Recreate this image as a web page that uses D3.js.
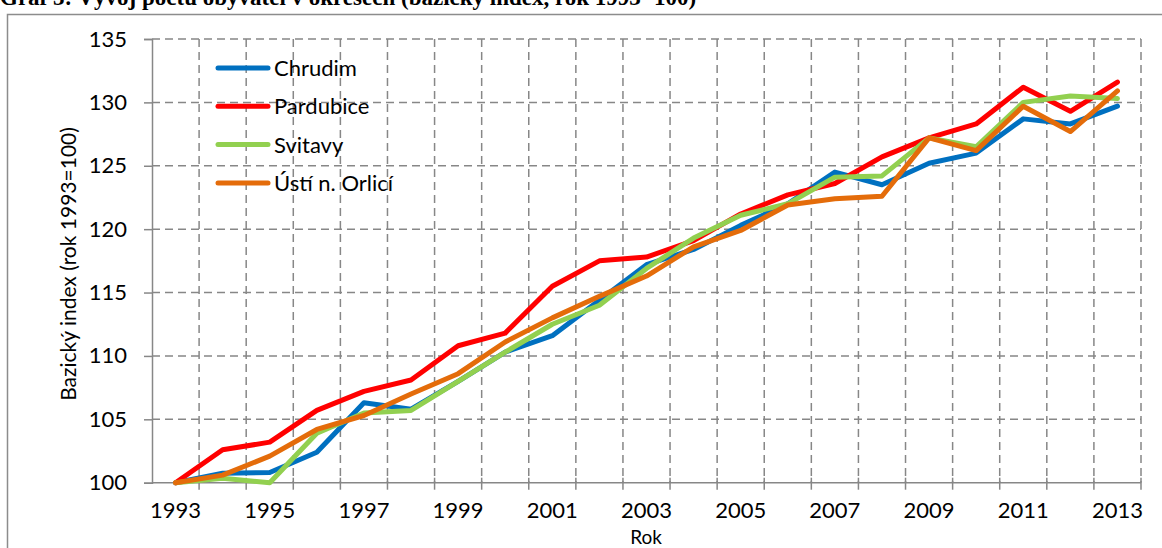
<!DOCTYPE html>
<html>
<head>
<meta charset="utf-8">
<script src="https://cdn.jsdelivr.net/npm/d3@7"></script>
<style>
    body { margin: 0; background: #fff; }
    svg { display: block; }
</style>
</head>
<body>
<div id="chart"></div>
<script>
// data
const years = d3.range(1993, 2014).map(String);
const yTicks = [100, 105, 110, 115, 120, 125, 130, 135];
const xLabels = ["1993", "1995", "1997", "1999", "2001", "2003", "2005", "2007", "2009", "2011", "2013"];

const seriesNames = ["Chrudim", "Pardubice", "Svitavy", "Ústí n. Orlicí"];
const chrudim   = [100, 100.75, 100.8, 102.4, 106.3, 105.8, 108.0, 110.3, 111.6, 114.4, 117.2, 118.4, 120.3, 122.0, 124.5, 123.5, 125.2, 126.0, 128.7, 128.3, 129.7];
const pardubice = [100, 102.6, 103.2, 105.7, 107.2, 108.1, 110.8, 111.8, 115.5, 117.5, 117.8, 119.1, 121.2, 122.7, 123.6, 125.7, 127.2, 128.3, 131.2, 129.3, 131.6];
const svitavy   = [100, 100.35, 100.0, 103.9, 105.5, 105.7, 108.0, 110.3, 112.5, 114.0, 116.9, 119.3, 121.1, 122.0, 124.1, 124.2, 127.2, 126.5, 130.0, 130.5, 130.3];
const usti      = [100, 100.6, 102.1, 104.2, 105.3, 107.0, 108.6, 111.1, 113.0, 114.7, 116.3, 118.6, 119.9, 121.9, 122.4, 122.6, 127.2, 126.2, 129.7, 127.7, 130.9];
const colors = ["#0070C0", "#FF0000", "#92D050", "#E46C0A"];

const series = [chrudim, pardubice, svitavy, usti].map((vals, i) => ({
    name: seriesNames[i],
    color: colors[i],
    values: vals.map((v, j) => ({ year: years[j], value: v }))
}));

const width = 1162, height = 548;
const font = "Lato, 'Open Sans', sans-serif";
const gridColor = "#878787";

const svg = d3.select("#chart").append("svg")
    .attr("width", width)
    .attr("height", height);

// cut-off caption above the chart frame
svg.append("text")
    .attr("x", 0)
    .attr("y", 5)
    .attr("font-family", "'Liberation Serif', serif")
    .attr("font-weight", "bold")
    .attr("font-size", 23)
    .text("Graf 3: Vývoj počtu obyvatel v okresech (bazický index, rok 1993=100)");

// outer chart frame
svg.append("rect")
    .attr("x", 7.5)
    .attr("y", 14.5)
    .attr("width", 1160)
    .attr("height", 600)
    .attr("fill", "#fff")
    .attr("stroke", "#8c8c8c")
    .attr("stroke-width", 1.5);

// scales
const x = d3.scaleBand()
    .domain(years)
    .range([152, 1141]);

const y = d3.scaleLinear()
    .domain([100, 135])
    .range([482.7, 39]);

// horizontal gridlines
svg.append("g")
    .selectAll("line")
    .data(yTicks.filter(d => d > 100))
    .enter().append("line")
    .attr("x1", 152)
    .attr("x2", 1141)
    .attr("y1", d => y(d))
    .attr("y2", d => y(d))
    .attr("stroke", gridColor)
    .attr("stroke-width", 1.5)
    .attr("stroke-dasharray", "8,5");

// vertical gridlines on band boundaries
const bounds = years.slice(1).map(d => x(d)).concat([x.range()[1]]);
svg.append("g")
    .selectAll("line")
    .data(bounds)
    .enter().append("line")
    .attr("x1", d => d)
    .attr("x2", d => d)
    .attr("y1", y(135))
    .attr("y2", y(100))
    .attr("stroke", gridColor)
    .attr("stroke-width", 1.5)
    .attr("stroke-dasharray", "8,5");

// Y axis
const yAxis = svg.append("g")
    .attr("transform", "translate(152,0)")
    .call(d3.axisLeft(y).tickValues(yTicks).tickSize(8).tickPadding(17));
yAxis.select(".domain").attr("stroke", gridColor).attr("stroke-width", 1.5);
yAxis.selectAll(".tick line").attr("stroke", gridColor).attr("stroke-width", 1.5);
yAxis.selectAll(".tick text")
    .attr("font-family", font)
    .attr("font-size", 22)
    .attr("fill", "#000");

// X axis line with crossing ticks
svg.append("line")
    .attr("x1", 152)
    .attr("x2", 1141)
    .attr("y1", y(100))
    .attr("y2", y(100))
    .attr("stroke", gridColor)
    .attr("stroke-width", 1.5);

svg.append("g")
    .selectAll("line")
    .data(bounds)
    .enter().append("line")
    .attr("x1", d => d)
    .attr("x2", d => d)
    .attr("y1", y(100) - 5)
    .attr("y2", y(100) + 7)
    .attr("stroke", gridColor)
    .attr("stroke-width", 1.5);

svg.append("g")
    .selectAll("text")
    .data(xLabels)
    .enter().append("text")
    .attr("x", d => x(d) + x.bandwidth() / 2)
    .attr("y", 518)
    .attr("text-anchor", "middle")
    .attr("font-family", font)
    .attr("font-size", 22)
    .text(d => d);

// axis titles
svg.append("text")
    .attr("x", 646)
    .attr("y", 544)
    .attr("text-anchor", "middle")
    .attr("font-family", font)
    .attr("font-size", 19)
    .text("Rok");

svg.append("text")
    .attr("transform", "translate(76,264) rotate(-90)")
    .attr("text-anchor", "middle")
    .attr("font-family", font)
    .attr("font-size", 21)
    .text("Bazický index (rok 1993=100)");

// lines
const line = d3.line()
    .x(d => x(d.year) + x.bandwidth() / 2)
    .y(d => y(d.value));

svg.append("g")
    .selectAll("path")
    .data(series)
    .enter().append("path")
    .attr("fill", "none")
    .attr("stroke", d => d.color)
    .attr("stroke-width", 5)
    .attr("stroke-linejoin", "round")
    .attr("stroke-linecap", "round")
    .attr("d", d => line(d.values));

// legend
const legend = svg.append("g")
    .attr("transform", "translate(218,68)");

const item = legend.selectAll("g")
    .data(series)
    .enter().append("g")
    .attr("transform", (d, i) => `translate(0,${i * 38.3})`);

item.append("line")
    .attr("x1", 0)
    .attr("x2", 50)
    .attr("stroke", d => d.color)
    .attr("stroke-width", 5)
    .attr("stroke-linecap", "round");

item.append("text")
    .attr("x", 56)
    .attr("y", 8)
    .attr("font-family", font)
    .attr("font-size", 22)
    .text(d => d.name);
</script>
</body>
</html>
